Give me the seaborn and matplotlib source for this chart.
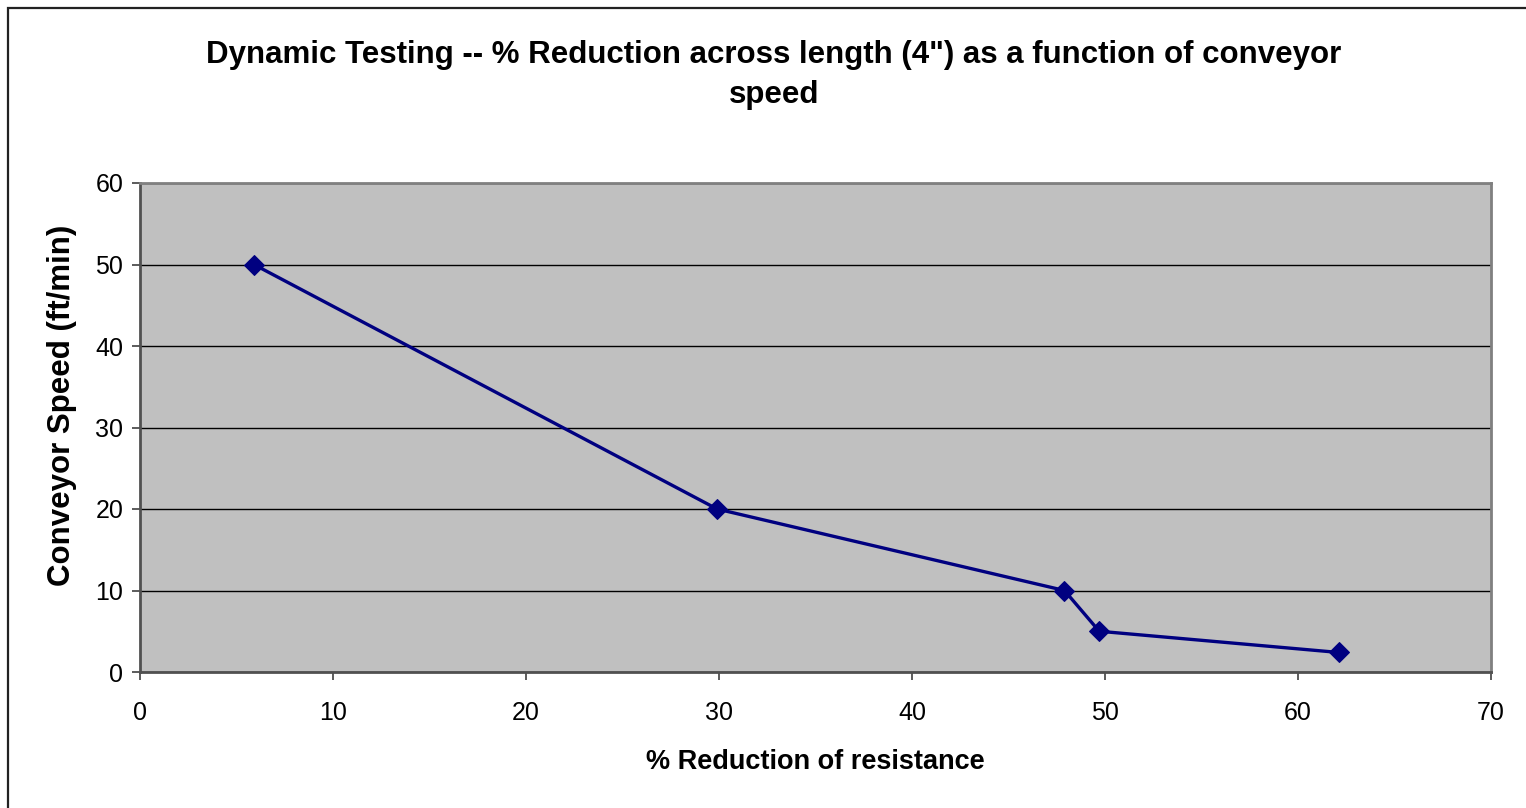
import matplotlib
matplotlib.use("Agg")
import matplotlib.pyplot as plt
from matplotlib.patches import Rectangle
import seaborn as sns
import pandas as pd

# Data
reduction_pct = [5.9, 29.9, 47.9, 49.7, 62.1]
conveyor_speed = [50, 20, 10, 5, 2.4]
x_ticks = [0, 10, 20, 30, 40, 50, 60, 70]
y_ticks = [0, 10, 20, 30, 40, 50, 60]

title_text = 'Dynamic Testing -- % Reduction across length (4") as a function of conveyor\nspeed'
x_label = "% Reduction of resistance"
y_label = "Conveyor Speed (ft/min)"

df = pd.DataFrame({"reduction": reduction_pct, "speed": conveyor_speed})

sns.set_style("white")
plt.rcParams["font.family"] = ["Liberation Sans", "DejaVu Sans"]

W, H = 1526, 808
fig = plt.figure(figsize=(W / 100, H / 100), dpi=100)
fig.patch.set_facecolor("white")

left, right, top, bottom = 140, 1491, 183, 672
ax = fig.add_axes([left / W, 1 - bottom / H, (right - left) / W, (bottom - top) / H])
ax.set_facecolor("#C0C0C0")

sns.lineplot(data=df, x="reduction", y="speed", ax=ax, color="#000080",
             linewidth=2.4, marker="D", markersize=10, markeredgecolor="#000080",
             sort=False, zorder=5)

ax.set_xlim(x_ticks[0], x_ticks[-1])
ax.set_ylim(y_ticks[0], y_ticks[-1])
ax.set_xticks(x_ticks)
ax.set_yticks(y_ticks)
ax.tick_params(axis="both", which="major", labelsize=18, length=6, width=1.2,
               color="#404040", direction="out", labelcolor="black")
ax.tick_params(axis="x", bottom=True, pad=15)
ax.tick_params(axis="y", left=True, pad=6)

ax.yaxis.grid(True, color="black", linewidth=1.0)
ax.xaxis.grid(False)
ax.set_axisbelow(True)

for side in ["left", "bottom"]:
    ax.spines[side].set_visible(True)
    ax.spines[side].set_color("#505050")
    ax.spines[side].set_linewidth(2)
for side in ["top", "right"]:
    ax.spines[side].set_visible(True)
    ax.spines[side].set_color("#808080")
    ax.spines[side].set_linewidth(2)

ax.set_xlabel("")
ax.set_ylabel("")

fig.text(774 / W, 1 - 75 / H, title_text, ha="center", va="center",
         fontsize=22.5, fontweight="bold", linespacing=1.45, color="black")
fig.text(815 / W, 1 - 762 / H, x_label, ha="center", va="center",
         fontsize=19.5, fontweight="bold", color="black")
fig.text(62 / W, 1 - 405 / H, y_label, ha="center", va="center",
         fontsize=22.5, fontweight="bold", rotation=90, color="black")

# Outer chart border (top and left visible)
border = Rectangle((8 / W, -0.1), 1.2, 1.1 - 8 / H, transform=fig.transFigure,
                   fill=False, edgecolor="#222222", linewidth=1.6, clip_on=False)
fig.patches.append(border)

fig.savefig("out.png", dpi=100, facecolor="white")
